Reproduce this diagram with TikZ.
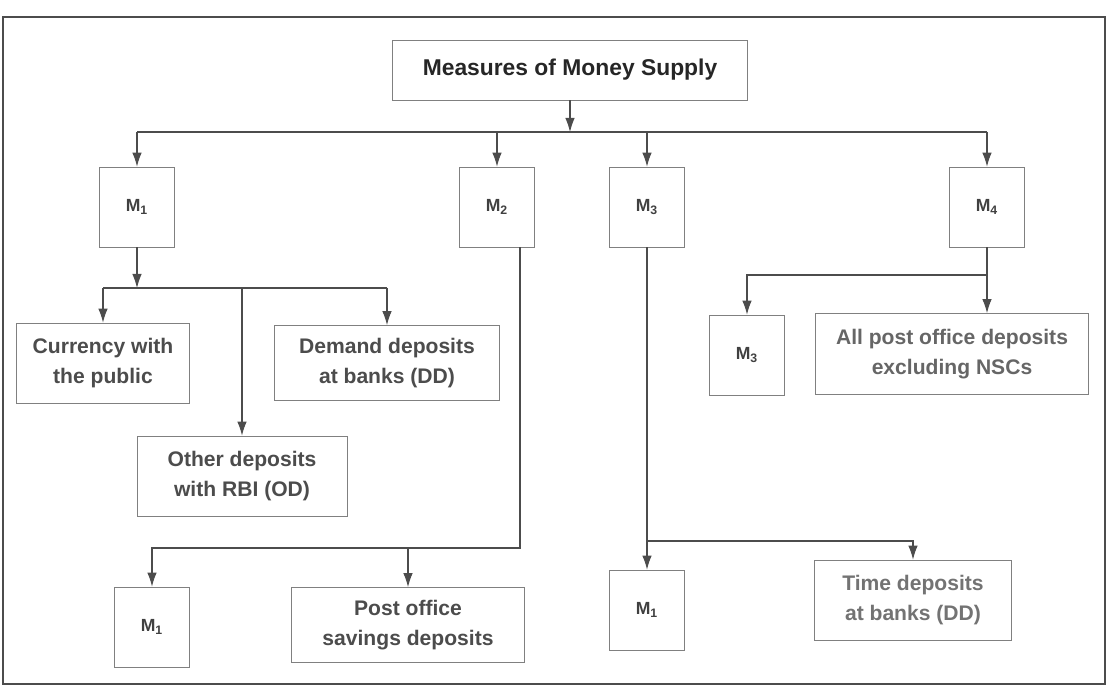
\documentclass[tikz,border=0pt]{standalone}
\usepackage{fontspec}
\setmainfont{Liberation Sans}
\usetikzlibrary{arrows.meta}

\begin{document}
\begin{tikzpicture}[x=0.02cm,y=-0.02cm,>={Latex[length=2.8mm,width=1.9mm]},
  box/.style={draw=black!50,fill=white,align=center,inner sep=2pt,
    font=\bfseries\fontsize{12}{17.5}\selectfont,text=black!70},
  mbox/.style={draw=black!50,fill=white,minimum width=1.5cm,minimum height=1.6cm,
    font=\bfseries\fontsize{10}{12}\selectfont,text=black!75},
  link/.style={draw=black!70,line width=0.6pt}]
\useasboundingbox (0,0) rectangle (1117,695);
\draw[black!70,line width=1pt] (3,17) rectangle (1105,684);

\node[box,font=\bfseries\fontsize{13}{15}\selectfont,text=black!85,
  minimum width=7.1cm,minimum height=1.2cm] (title) at (570,70) {Measures of Money Supply};

\node[mbox] (m1) at (137,207) {M\textsubscript{1}};
\node[mbox] (m2) at (497,207) {M\textsubscript{2}};
\node[mbox] (m3) at (647,207) {M\textsubscript{3}};
\node[mbox] (m4) at (987,207) {M\textsubscript{4}};

\node[box,minimum width=3.46cm,minimum height=1.6cm] (cur) at (103,363) {Currency with\\the public};
\node[box,minimum width=4.5cm,minimum height=1.5cm] (dd) at (387,363) {Demand deposits\\at banks (DD)};
\node[box,minimum width=4.2cm,minimum height=1.6cm] (od) at (242,476) {Other deposits\\with RBI (OD)};

\node[mbox] (m2m1) at (152,627) {M\textsubscript{1}};
\node[box,minimum width=4.66cm,minimum height=1.5cm] (pos) at (408,625) {Post office\\savings deposits};

\node[mbox] (m3m1) at (647,610) {M\textsubscript{1}};
\node[box,minimum width=3.94cm,minimum height=1.6cm,text=black!55] (td) at (913,600) {Time deposits\\at banks (DD)};

\node[mbox] (m4m3) at (747,355) {M\textsubscript{3}};
\node[box,minimum width=5.46cm,minimum height=1.62cm,text=black!60] (pod) at (952,354) {All post office deposits\\excluding NSCs};

% main branches
\coordinate (top) at (570,132);
\draw[->,link] (title) -- (top);
\draw[link] (m1 |- top) -- (m4 |- top);
\foreach \n in {m1,m2,m3,m4} \draw[->,link] (\n |- top) -- (\n);

% M1
\coordinate (b1) at (137,288);
\draw[->,link] (m1) -- (b1);
\draw[link] (cur |- b1) -- (dd |- b1);
\foreach \n in {cur,od,dd} \draw[->,link] (\n |- b1) -- (\n);

% M2
\coordinate (b2) at (152,548);
\draw[->,link] ([xshift=0.46cm]m2.south) |- (b2) -- (m2m1);
\draw[->,link] (pos |- b2) -- (pos);

% M3
\coordinate (b3) at (647,541);
\draw[->,link] (m3) -- (m3m1);
\draw[->,link] (b3) -| (td);

% M4
\coordinate (b4) at (987,275);
\draw[->,link] (m4) -- (m4 |- pod.north);
\draw[->,link] (b4) -| (m4m3);
\end{tikzpicture}
\end{document}
